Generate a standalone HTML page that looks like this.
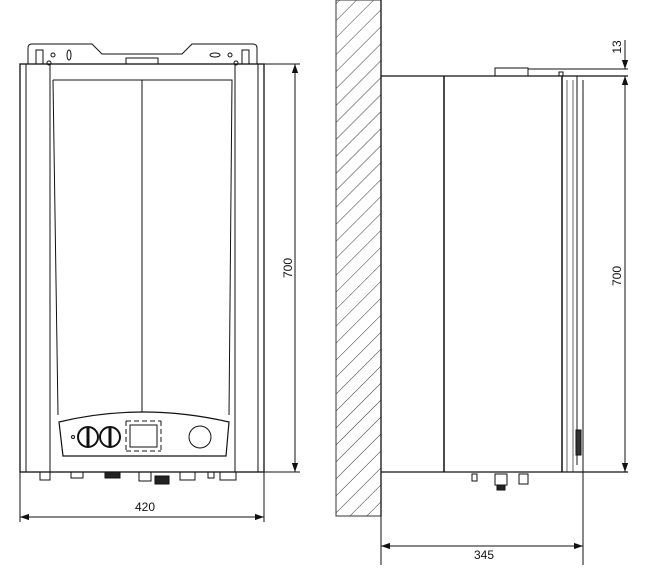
<!DOCTYPE html>
<html><head><meta charset="utf-8"><style>
html,body{margin:0;padding:0;background:#fff;}
svg{display:block;}
text{font-family:"Liberation Sans",sans-serif;font-size:12px;fill:#111;}
</style></head><body>
<svg width="649" height="587" viewBox="0 0 649 587" xmlns="http://www.w3.org/2000/svg">
<defs>
<pattern id="h" width="12" height="12" patternUnits="userSpaceOnUse" patternTransform="rotate(45)">
<line x1="0" y1="0" x2="0" y2="12" stroke="#333" stroke-width="1"/>
</pattern>
<marker id="a" viewBox="0 0 10 10" refX="10" refY="5" markerWidth="9" markerHeight="9" orient="auto-start-reverse" markerUnits="userSpaceOnUse"><path d="M0,1.5 L10,5 L0,8.5 z" fill="#111"/></marker>
</defs>
<g fill="none" stroke="#111" stroke-width="1">
<!-- FRONT VIEW -->
<path d="M28,64 V48 Q28,44 32,44 H92 L102,54 H182 L192,44 H253 Q257,44 257,48 V64"/>
<rect x="36" y="50" width="7" height="14"/>
<rect x="242" y="50" width="7" height="14"/>
<circle cx="53" cy="55" r="2"/><circle cx="230" cy="55" r="2"/>
<ellipse cx="69" cy="55" rx="2" ry="5"/><ellipse cx="215" cy="55" rx="5" ry="2"/>
<circle cx="49" cy="63" r="2"/><circle cx="236" cy="63" r="2"/>
<rect x="126" y="58" width="32" height="6"/>
<rect x="20" y="64" width="244" height="408" stroke-width="1.3"/>
<line x1="26" y1="64" x2="26" y2="472"/>
<line x1="50" y1="64" x2="50" y2="472"/>
<line x1="235" y1="64" x2="235" y2="472"/>
<line x1="258" y1="64" x2="258" y2="472"/>
<path d="M53,80 H232 L229,415"/>
<path d="M53,80 L58,415"/>
<line x1="142" y1="80" x2="142" y2="412"/>
<path d="M59,422 Q142,402 229,422 L226,456 H63 Z" stroke-width="1.2"/>
<circle cx="73" cy="437" r="1.5"/>
<circle cx="88" cy="437" r="10" stroke-width="2"/><line x1="88" y1="428" x2="88" y2="446" stroke-width="3"/>
<circle cx="110" cy="437" r="10" stroke-width="2"/><line x1="110" y1="428" x2="110" y2="446" stroke-width="3"/>
<rect x="130" y="425" width="27" height="22"/>
<path d="M126,421 L126,451 M161,421 L161,451 M126,421 H161 M126,451 H161" stroke-dasharray="5,3"/>
<circle cx="200" cy="437" r="11"/>
<rect x="40" y="472" width="10" height="8"/>
<rect x="71" y="472" width="12" height="6"/>
<rect x="105" y="472" width="15" height="6" fill="#222"/>
<rect x="139" y="472" width="12" height="9"/>
<rect x="155" y="476" width="14" height="8" fill="#222"/>
<rect x="180" y="472" width="15" height="8"/>
<rect x="208" y="472" width="6" height="6"/>
<rect x="220" y="472" width="16" height="8"/>
<!-- front dims -->
<line x1="264" y1="64" x2="300" y2="64"/>
<line x1="264" y1="472" x2="300" y2="472"/>
<line x1="295" y1="64" x2="295" y2="472" marker-start="url(#a)" marker-end="url(#a)"/>
<line x1="20" y1="472" x2="20" y2="522"/>
<line x1="264" y1="472" x2="264" y2="522"/>
<line x1="20" y1="517" x2="264" y2="517" marker-start="url(#a)" marker-end="url(#a)"/>
<!-- SIDE VIEW -->
<rect x="336" y="0" width="45" height="516" fill="url(#h)" stroke="#333"/>
<line x1="381" y1="0" x2="381" y2="516" stroke-width="1.3"/>
<line x1="381" y1="76" x2="628" y2="76" stroke-width="1.3"/>
<line x1="528" y1="69" x2="628" y2="69"/>
<rect x="495" y="68" width="33" height="8"/>
<rect x="559" y="72" width="4" height="4"/>
<line x1="444" y1="76" x2="444" y2="472" stroke-width="1.5"/>
<line x1="562" y1="76" x2="562" y2="472" stroke-width="1.5"/>
<line x1="567" y1="80" x2="567" y2="472" stroke="#666"/>
<line x1="573" y1="80" x2="573" y2="472" stroke="#666"/>
<line x1="577" y1="90" x2="577" y2="465" stroke="#666" stroke-width="1.5"/>
<path d="M573,76 H577 V90"/>
<rect x="576" y="430" width="5" height="25" fill="#333"/>
<line x1="381" y1="472" x2="628" y2="472" stroke-width="1.3"/>
<rect x="472" y="474" width="5" height="7"/>
<rect x="495" y="474" width="12" height="11"/>
<rect x="497" y="485" width="8" height="5" fill="#222"/>
<rect x="519" y="474" width="9" height="10"/>
<line x1="583" y1="80" x2="583" y2="565"/>
<line x1="381" y1="516" x2="381" y2="565"/>
<line x1="381" y1="546" x2="583" y2="546" marker-start="url(#a)" marker-end="url(#a)"/>
<line x1="625" y1="40" x2="625" y2="69" marker-end="url(#a)"/>
<line x1="625" y1="76" x2="625" y2="472" marker-start="url(#a)" marker-end="url(#a)"/>
</g>
<text x="145" y="511" text-anchor="middle">420</text>
<text x="484" y="559" text-anchor="middle">345</text>
<text transform="translate(292,268) rotate(-90)" text-anchor="middle">700</text>
<text transform="translate(621,276) rotate(-90)" text-anchor="middle">700</text>
<text transform="translate(621,47) rotate(-90)" text-anchor="middle">13</text>
</svg>
</body></html>
